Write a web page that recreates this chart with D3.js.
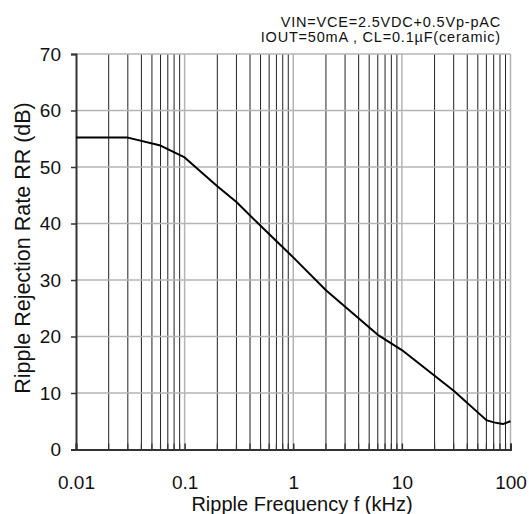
<!DOCTYPE html>
<html><head><meta charset="utf-8">
<script src="https://cdn.jsdelivr.net/npm/d3@7"></script>
<style>body{margin:0;background:#fff}svg{display:block}text{font-family:"Liberation Sans",Arial,sans-serif;fill:#111}</style>
</head><body>
<script>
const freqs = [0.01, 0.03, 0.06, 0.1, 0.2, 0.3, 0.5, 1, 2, 6, 10, 30, 60, 70, 85, 100];
const rr    = [55.2, 55.2, 53.8, 51.7, 46.6, 43.8, 39.6, 34.0, 28.2, 20.3, 17.6, 10.4, 5.2, 4.8, 4.5, 5.0];
const xTickLabels = ["0.01", "0.1", "1", "10", "100"];
const xTickValues = [0.01, 0.1, 1, 10, 100];
const yTickValues = [0, 10, 20, 30, 40, 50, 60, 70];
const notes = ["VIN=VCE=2.5VDC+0.5Vp-pAC", "IOUT=50mA , CL=0.1µF(ceramic)"];
const xTitle = "Ripple Frequency f (kHz)";
const yTitle = "Ripple Rejection Rate RR (dB)";

const W = 529, H = 514;
const L = 76, R = 510.5, T = 54, B = 449.5;
const svg = d3.select("body").append("svg").attr("width", W).attr("height", H);
const x = d3.scaleLog().domain([0.01, 100]).range([L, R]);
const y = d3.scaleLinear().domain([0, 70]).range([B, T]);

// minor vertical grid
const minors = [];
for (let d = 0.01; d < 100; d *= 10) for (let k = 2; k <= 9; k++) minors.push(+(d * k).toPrecision(3));
svg.append("g").selectAll("line").data(minors).join("line")
  .attr("x1", d => x(d)).attr("x2", d => x(d)).attr("y1", T).attr("y2", B)
  .attr("stroke", "#222").attr("stroke-width", 1);
// major vertical grid
svg.append("g").selectAll("line").data(xTickValues.slice(1)).join("line")
  .attr("x1", d => x(d)).attr("x2", d => x(d)).attr("y1", T).attr("y2", B)
  .attr("stroke", "#b4b4b4").attr("stroke-width", 1.5);
// horizontal grid
svg.append("g").selectAll("line").data(yTickValues.slice(1)).join("line")
  .attr("x1", L).attr("x2", R).attr("y1", d => y(d)).attr("y2", d => y(d))
  .attr("stroke", "#b4b4b4").attr("stroke-width", 1.5);

// axes
const yAxis = d3.axisLeft(y).tickValues(yTickValues).tickSize(5).tickPadding(10).tickFormat(d3.format("d"));
const gy = svg.append("g").attr("transform", `translate(${L},0)`).call(yAxis);
gy.select(".domain").attr("stroke", "#333").attr("stroke-width", 2);
gy.selectAll(".tick line").attr("stroke", "#333").attr("stroke-width", 1.5);
gy.selectAll(".tick text").attr("font-size", 19).style("font-family", "Liberation Sans, Arial, sans-serif").attr("fill", "#111");

const xAxis = d3.axisBottom(x).tickValues(xTickValues).tickSize(-6).tickPadding(26)
  .tickFormat((d, i) => xTickLabels[i]);
const gx = svg.append("g").attr("transform", `translate(0,${B})`).call(xAxis);
gx.select(".domain").attr("stroke", "#333").attr("stroke-width", 2);
gx.selectAll(".tick line").attr("stroke", "#333").attr("stroke-width", 1.5);
gx.selectAll(".tick text").attr("font-size", 19).style("font-family", "Liberation Sans, Arial, sans-serif").attr("fill", "#111");
svg.append("g").selectAll("line").data(minors).join("line")
  .attr("x1", d => x(d)).attr("x2", d => x(d)).attr("y1", B).attr("y2", B - 6)
  .attr("stroke", "#333").attr("stroke-width", 1.2);

// curve
const line = d3.line().x(d => x(d[0])).y(d => y(d[1]));
svg.append("path").datum(freqs.map((f, i) => [f, rr[i]]))
  .attr("d", line).attr("fill", "none").attr("stroke", "#000").attr("stroke-width", 2).attr("stroke-linejoin", "round");

// notes
svg.append("g").selectAll("text").data(notes).join("text")
  .attr("x", 501).attr("y", (d, i) => 27 + i * 14.5).attr("text-anchor", "end")
  .attr("font-size", 14.5).attr("letter-spacing", 0.8).text(d => d);

// titles
svg.append("text").attr("x", 302).attr("y", 511).attr("text-anchor", "middle").attr("font-size", 20).text(xTitle);
svg.append("text").attr("transform", `translate(30,248) rotate(-90)`).attr("text-anchor", "middle")
  .attr("font-size", 21.5).text(yTitle);
</script>
</body></html>
